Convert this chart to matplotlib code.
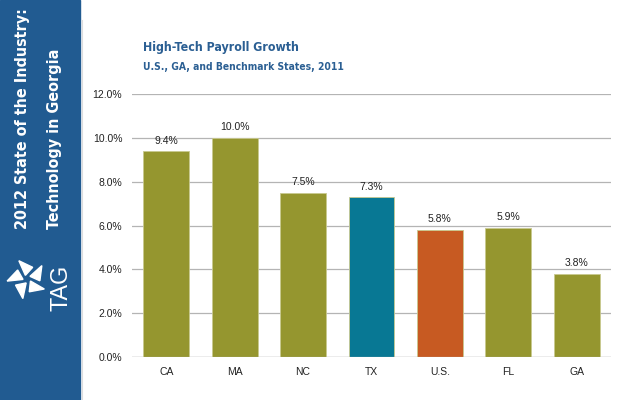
import matplotlib.pyplot as plt
from matplotlib.patches import Rectangle, Polygon
from matplotlib.lines import Line2D
from matplotlib import font_manager
from matplotlib.font_manager import FontProperties
import numpy as np

states = ['CA', 'MA', 'NC', 'TX', 'U.S.', 'FL', 'GA']
growth = [9.4, 10.0, 7.5, 7.3, 5.8, 5.9, 3.8]
bar_colors = ['#95962f', '#95962f', '#95962f', '#087894', '#c75a22', '#95962f', '#95962f']
yticks = [0, 2, 4, 6, 8, 10, 12]

sans = ['Liberation Sans', 'DejaVu Sans']

# look for the narrowest bold face there is
rank = {'ultra-condensed': 0, 'extra-condensed': 1, 'condensed': 2, 'semi-condensed': 3}
cond = []
for f in font_manager.fontManager.ttflist:
    st = str(f.stretch)
    r = rank.get(st, 2 if ('Narrow' in f.name or 'Condensed' in f.name) else None)
    if r is not None and f.weight in ('bold', 700, 'demibold', 600) and f.style == 'normal':
        cond.append((r, f.fname))
cond.sort()
if cond:
    bold_narrow = FontProperties(fname=cond[0][1])
else:
    bold_narrow = FontProperties(family='DejaVu Sans', weight='bold')

fig = plt.figure(figsize=(6.4, 4.0), dpi=100)
renderer = fig.canvas.get_renderer()


def fit(t, target_px, horizontal=True):
    # scale the font so the text spans target_px
    for _ in range(3):
        bb = t.get_window_extent(renderer)
        size = bb.width if horizontal else bb.height
        t.set_fontsize(t.get_fontsize() * target_px / size)


# sidebar
fig.patches.append(Rectangle((0, 0), 80 / 640, 1, transform=fig.transFigure,
                             color='#215b91', zorder=0))
fig.add_artist(Line2D([81.5 / 640, 81.5 / 640], [0, 1 - 20 / 400], transform=fig.transFigure,
                      color='#dddddd', lw=0.8))
t1 = fig.text(23 / 640, 1 - 229 / 400, '2012 State of the Industry:', rotation=90,
              ha='center', va='bottom', color='white', fontsize=13, fontproperties=bold_narrow)
t2 = fig.text(55 / 640, 1 - 229 / 400, 'Technology in Georgia', rotation=90,
              ha='center', va='bottom', color='white', fontsize=13, fontproperties=bold_narrow)
fit(t1, 222, horizontal=False)
fit(t2, 180, horizontal=False)
tag = fig.text(61 / 640, 1 - 288 / 400, 'TAG', rotation=90, ha='center', va='center',
               color='white', fontsize=14, family=sans)
fit(tag, 46, horizontal=False)

# simple pinwheel logo
cx, cy = 27, 279
for ang in [30, 102, 174, 246, 318]:
    a = np.radians(ang)
    b = np.radians(ang + 50)
    pts = [(cx + 4 * np.cos(a), cy + 4 * np.sin(a)),
           (cx + 20 * np.cos(a), cy + 20 * np.sin(a)),
           (cx + 13 * np.cos(b), cy + 13 * np.sin(b))]
    fig.patches.append(Polygon([(x / 640, 1 - y / 400) for x, y in pts], closed=True,
                               transform=fig.transFigure, color='white'))

# titles
h1 = fig.text(143 / 640, 1 - 47 / 400, 'High-Tech Payroll Growth', ha='left', va='center',
              color='#2b5f93', fontsize=11.5, fontproperties=bold_narrow)
h2 = fig.text(143 / 640, 1 - 67 / 400, 'U.S., GA, and Benchmark States, 2011', ha='left', va='center',
              color='#2b5f93', fontsize=9.5, fontproperties=bold_narrow)
fit(h1, 158)
fit(h2, 200)

ax = fig.add_axes([132 / 640, 1 - 357 / 400, 479 / 640, 263 / 400])
x = np.arange(len(states))
ax.bar(x, growth, width=0.67, color=bar_colors, edgecolor='#c8c98f', linewidth=0.6, zorder=2)
for xi, v in zip(x, growth):
    ax.text(xi, v + 0.25, f'{v:.1f}%', ha='center', va='bottom', fontsize=7.5,
            color='#222222', family=sans)

ax.set_xlim(-0.5, len(states) - 0.5)
ax.set_ylim(0, 12)
ax.set_yticks(yticks)
ax.set_yticklabels([f'{t:.1f}%' for t in yticks], family=sans, fontsize=7.5, color='#222222')
ax.set_xticks(x)
ax.set_xticklabels(states, family=sans, fontsize=7.5, color='#222222')
ax.tick_params(length=0)
ax.tick_params(axis='y', pad=7)
ax.tick_params(axis='x', pad=7)
ax.grid(axis='y', color='#b4b4b4', linewidth=0.9, zorder=1)
for s in ax.spines.values():
    s.set_visible(False)
ax.axhline(0, color='#b4b4b4', linewidth=0.9, zorder=3)

fig.savefig('out.png', dpi=100)
